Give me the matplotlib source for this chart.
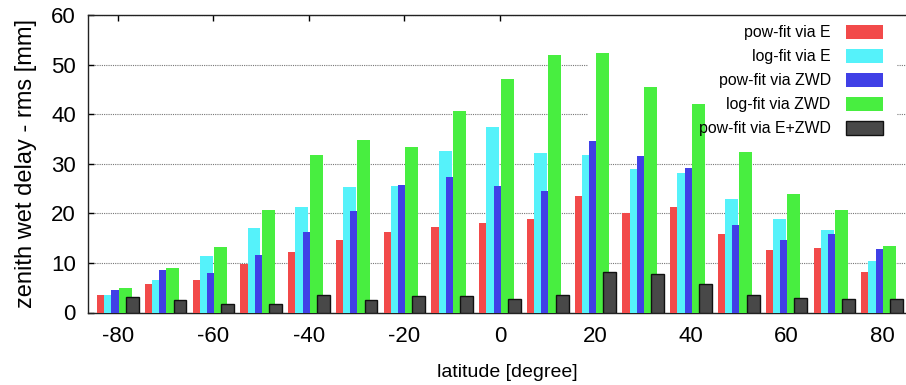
import matplotlib
matplotlib.use("Agg")
import matplotlib.pyplot as plt
from matplotlib.patches import Rectangle
import numpy as np

plt.rcParams['font.family'] = ['Liberation Sans', 'DejaVu Sans']
plt.rcParams['axes.unicode_minus'] = False

latitudes = [-80, -70, -60, -50, -40, -30, -20, -10, 0, 10, 20, 30, 40, 50, 60, 70, 80]
pow_fit_E = [3.5, 5.8, 6.5, 9.8, 12.3, 14.6, 16.2, 17.2, 18.1, 18.9, 23.4, 20.1, 21.2, 15.8, 12.7, 13.1, 8.2]
log_fit_E = [3.5, 6.6, 11.4, 17.0, 21.3, 25.4, 25.6, 32.6, 37.4, 32.2, 31.8, 28.9, 28.2, 22.8, 18.8, 16.6, 10.3]
pow_fit_ZWD = [4.5, 8.6, 8.0, 11.5, 16.2, 20.4, 25.8, 27.4, 25.5, 24.6, 34.6, 31.6, 29.2, 17.6, 14.6, 15.8, 12.9]
log_fit_ZWD = [5.0, 8.9, 13.3, 20.7, 31.8, 34.8, 33.4, 40.6, 47.0, 51.9, 52.3, 45.4, 42.1, 32.3, 23.9, 20.7, 13.5]
pow_fit_E_ZWD = [3.2, 2.5, 1.7, 1.7, 3.6, 2.6, 3.4, 3.4, 2.8, 3.6, 8.2, 7.8, 5.8, 3.6, 2.9, 2.8, 2.8]

series_labels = ["pow-fit via E", "log-fit via E", "pow-fit via ZWD", "log-fit via ZWD", "pow-fit via E+ZWD"]
series = [pow_fit_E, log_fit_E, pow_fit_ZWD, log_fit_ZWD, pow_fit_E_ZWD]
colors = ["#f24a4a", "#55f2fa", "#4040e6", "#48ee40", "#484848"]
edges = ["none", "none", "none", "none", "#111111"]

W, H = 906, 385
fig = plt.figure(figsize=(W / 100, H / 100), dpi=100)
ax_left, ax_right = 88.3, 926.0
ax = fig.add_axes([ax_left / W, 1 - 312.5 / H, (ax_right - ax_left) / W, (312.5 - 15) / H])

x = np.array(latitudes, dtype=float)
step = 1.5
width = 2.7
handles = []
for k, (vals, lab, c, ec) in enumerate(zip(series, series_labels, colors, edges)):
    pos = x + (k - 2) * step
    b = ax.bar(pos, vals, width=width, color=c, edgecolor=ec,
               linewidth=1.0 if ec != "none" else 0, label=lab, zorder=3 + k)
    handles.append(b)

ax.set_xlim(-86.2, 89.2)
ax.set_ylim(0, 60)
ax.set_xticks(np.arange(-80, 81, 20))
ax.set_yticks(np.arange(0, 61, 10))
ax.tick_params(direction='in', length=4, width=1, labelsize=16, top=True, right=True)
ax.tick_params(axis='x', pad=10)
ax.tick_params(axis='y', pad=9)
ax.yaxis.grid(True, linestyle=(0, (1, 1)), color='#777777', linewidth=0.8, zorder=0)
ax.set_axisbelow(True)
for s in ax.spines.values():
    s.set_linewidth(1.0)
    s.set_color('#222222')

ax.set_ylabel("zenith wet delay - rms [mm]", fontsize=17, labelpad=10)
ax.set_xlabel("latitude [degree]", fontsize=14, labelpad=12)

# white key background (hides gridlines, sits behind bars)
bx0, bx1, by0, by1 = 588, 897, 16, 150
ax.add_patch(Rectangle((bx0 / W, 1 - by1 / H), (bx1 - bx0) / W, (by1 - by0) / H,
                       transform=fig.transFigure, facecolor='white', edgecolor='none',
                       zorder=1))

leg = ax.legend(handles=handles, labels=series_labels, loc='upper right',
                bbox_to_anchor=(883 / W, 1 - 25 / H), bbox_transform=fig.transFigure,
                frameon=False, markerfirst=False, fontsize=11.4, handlelength=2.35,
                handleheight=0.95, handletextpad=0.95, labelspacing=0.55,
                borderpad=0.0, borderaxespad=0)
leg.set_zorder(20)

fig.savefig("out.png", dpi=100)
